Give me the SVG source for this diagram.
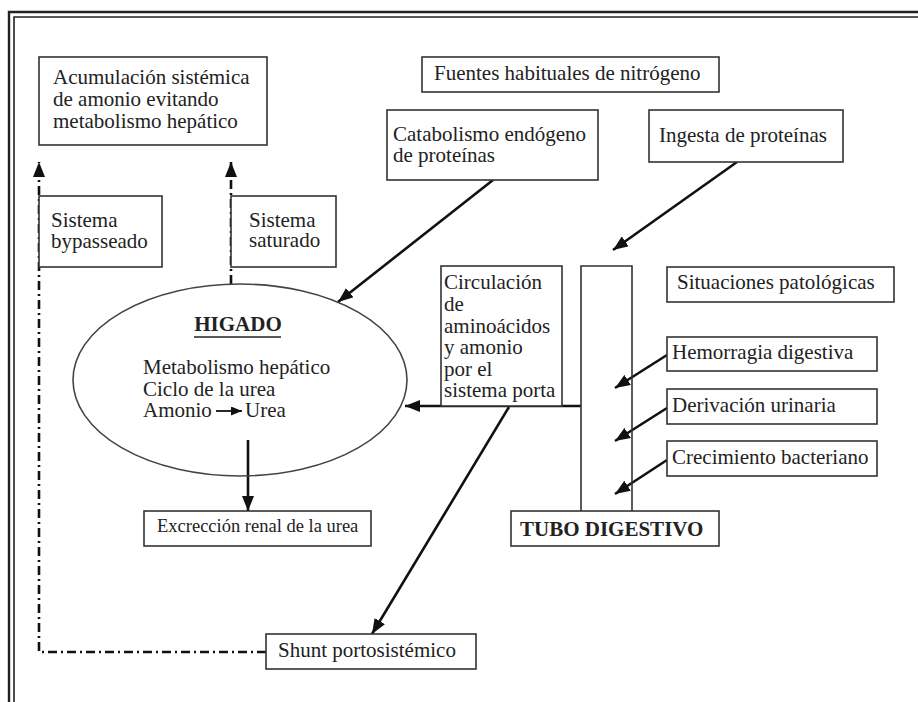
<svg xmlns="http://www.w3.org/2000/svg" width="918" height="702" viewBox="0 0 918 702">
<style>
.bx{fill:#fff;stroke:#333;stroke-width:1.6}
.t{font-family:"Liberation Serif","Times New Roman",serif;font-size:21px;fill:#222}
.s{font-size:18.5px}
.b{font-weight:bold}
.ln{stroke:#111;stroke-width:2.6;fill:none}
.dd{stroke:#111;stroke-width:2.6;fill:none;stroke-dasharray:9 4 2 4}
</style>
<defs>
<marker id="ah" markerUnits="userSpaceOnUse" markerWidth="16" markerHeight="12" refX="15" refY="6" orient="auto">
<path d="M0,0 L15,6 L0,12 z" fill="#111"/>
</marker>
<marker id="ahs" markerUnits="userSpaceOnUse" markerWidth="12" markerHeight="10" refX="11" refY="4.5" orient="auto">
<path d="M0,0 L11,4.5 L0,9 z" fill="#111"/>
</marker>
</defs>
<rect width="918" height="702" fill="#fff"/>
<g id="frame">
<path d="M9,702 V12 H918" fill="none" stroke="#222" stroke-width="2.4"/>
<path d="M14,702 V17 H918" fill="none" stroke="#222" stroke-width="1.6"/>
</g>
<g id="connectors">
<line class="ln" x1="493" y1="180" x2="338" y2="302" marker-end="url(#ah)"/>
<line class="ln" x1="737" y1="162" x2="613" y2="250" marker-end="url(#ah)"/>
<line class="ln" x1="667" y1="355" x2="615" y2="388" marker-end="url(#ah)"/>
<line class="ln" x1="667" y1="408" x2="615" y2="441" marker-end="url(#ah)"/>
<line class="ln" x1="667" y1="460" x2="615" y2="494" marker-end="url(#ah)"/>
<line class="ln" x1="581" y1="406" x2="405" y2="406" marker-end="url(#ah)"/>
<line class="ln" x1="509" y1="407" x2="372" y2="634" marker-end="url(#ah)"/>
<line class="ln" x1="248" y1="440" x2="248" y2="511" marker-end="url(#ah)"/>
<path class="dd" d="M266,652 H39 V162" marker-end="url(#ah)"/>
<path class="dd" d="M231,284 V162" marker-end="url(#ah)"/>
</g>
<g id="acumulacion">
<rect class="bx" x="39" y="57" width="228" height="88"/>
<text class="t" x="53" y="84">Acumulación sistémica<tspan x="53" y="106">de amonio evitando</tspan><tspan x="53" y="128">metabolismo hepático</tspan></text>
</g>
<g id="fuentes">
<rect class="bx" x="422" y="57" width="297" height="35"/>
<text class="t" x="434" y="80">Fuentes habituales de nitrógeno</text>
</g>
<g id="catabolismo">
<rect class="bx" x="387" y="110" width="211" height="70"/>
<text class="t" x="393" y="141">Catabolismo endógeno<tspan x="393" y="162">de proteínas</tspan></text>
</g>
<g id="ingesta">
<rect class="bx" x="649" y="110" width="194" height="52"/>
<text class="t" x="659" y="142">Ingesta de proteínas</text>
</g>
<g id="bypasseado">
<rect class="bx" x="39" y="196" width="123" height="71"/>
<text class="t" x="51" y="227">Sistema<tspan x="51" y="248">bypasseado</tspan></text>
</g>
<g id="saturado">
<rect class="bx" x="231" y="196" width="105" height="71"/>
<text class="t" x="249" y="227">Sistema<tspan x="249" y="247">saturado</tspan></text>
</g>
<g id="higado">
<ellipse cx="240" cy="380" rx="167" ry="96" fill="none" stroke="#444" stroke-width="1.6"/>
<text class="t b" x="238" y="331" text-anchor="middle">HIGADO</text>
<line x1="194" y1="337" x2="281" y2="337" stroke="#222" stroke-width="1.6"/>
<text class="t" x="143" y="374">Metabolismo hepático<tspan x="143" y="396">Ciclo de la urea</tspan><tspan x="143" y="417">Amonio</tspan><tspan x="245" y="417">Urea</tspan></text>
<line x1="216" y1="411" x2="242" y2="411" stroke="#111" stroke-width="1.8" marker-end="url(#ahs)"/>
</g>
<g id="excrecion">
<rect class="bx" x="144" y="511" width="227" height="35"/>
<text class="t s" x="157" y="532">Excrección renal de la urea</text>
</g>
<g id="circulacion">
<rect class="bx" x="441" y="266" width="121" height="140"/>
<text class="t" x="444" y="289">Circulación<tspan x="444" y="311">de</tspan><tspan x="444" y="333">aminoácidos</tspan><tspan x="444" y="354">y amonio</tspan><tspan x="444" y="376">por el</tspan><tspan x="444" y="397">sistema porta</tspan></text>
</g>
<g id="tubo">
<path d="M581,511 V266 H632 V511" fill="none" stroke="#333" stroke-width="1.6"/>
<rect class="bx" x="511" y="511" width="208" height="35"/>
<text class="t b" x="520" y="536">TUBO DIGESTIVO</text>
</g>
<g id="situaciones">
<rect class="bx" x="667" y="267" width="227" height="35"/>
<text class="t" x="677" y="289">Situaciones patológicas</text>
</g>
<g id="hemorragia">
<rect class="bx" x="667" y="337" width="210" height="34"/>
<text class="t" x="672" y="359">Hemorragia digestiva</text>
</g>
<g id="derivacion">
<rect class="bx" x="667" y="389" width="210" height="35"/>
<text class="t" x="672" y="412">Derivación urinaria</text>
</g>
<g id="crecimiento">
<rect class="bx" x="667" y="441" width="210" height="35"/>
<text class="t" x="672" y="464">Crecimiento bacteriano</text>
</g>
<g id="shunt">
<rect class="bx" x="266" y="634" width="210" height="35"/>
<text class="t" x="278" y="657">Shunt portosistémico</text>
</g>
</svg>
